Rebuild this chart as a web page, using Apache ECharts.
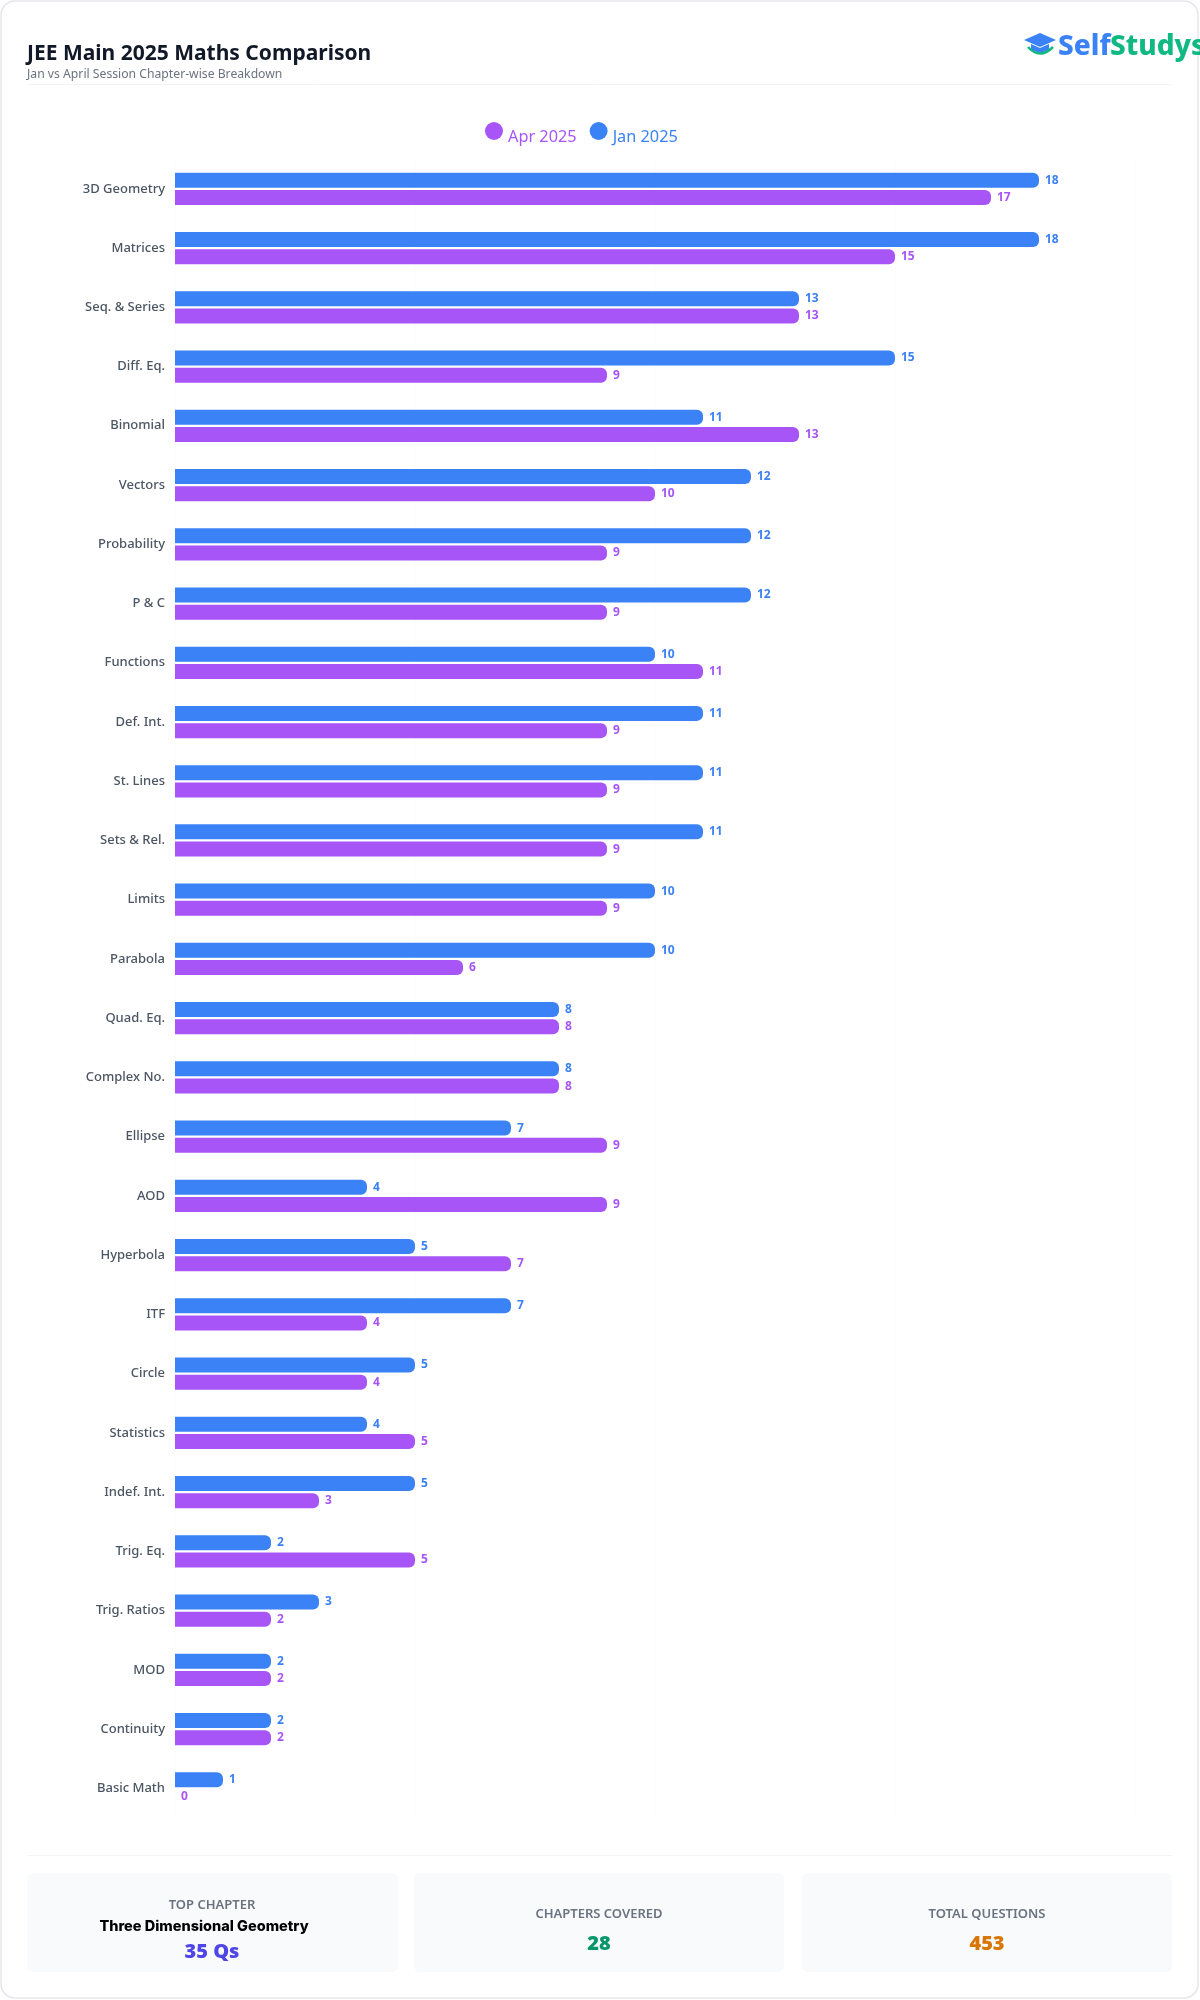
<!DOCTYPE html>
<html>
<head>
<meta charset="utf-8">
<title>JEE Main 2025 Maths Comparison</title>
<script src="https://cdn.jsdelivr.net/npm/echarts@6/dist/echarts.min.js"></script>
<style>
    html, body { margin: 0; padding: 0; background: #fff; }
    #id { width: 1200px; height: 2000px; }
</style>
</head>
<body>
<div id="id"></div>
<script>
var chapters = ['3D Geometry', 'Matrices', 'Seq. & Series', 'Diff. Eq.', 'Binomial', 'Vectors', 'Probability', 'P & C',
    'Functions', 'Def. Int.', 'St. Lines', 'Sets & Rel.', 'Limits', 'Parabola', 'Quad. Eq.', 'Complex No.', 'Ellipse',
    'AOD', 'Hyperbola', 'ITF', 'Circle', 'Statistics', 'Indef. Int.', 'Trig. Eq.', 'Trig. Ratios', 'MOD', 'Continuity', 'Basic Math'];
var jan2025 = [18, 18, 13, 15, 11, 12, 12, 12, 10, 11, 11, 11, 10, 10, 8, 8, 7, 4, 5, 7, 5, 4, 5, 2, 3, 2, 2, 1];
var apr2025 = [17, 15, 13, 9, 13, 10, 9, 9, 11, 9, 9, 9, 9, 6, 8, 8, 9, 9, 7, 4, 4, 5, 3, 5, 2, 2, 2, 0];

var BLUE = '#3b82f6';
var PURPLE = '#a855f7';
var FONT = '"Noto Sans", "Open Sans", sans-serif';

function statText(x, y, text, size, weight, color, family) {
    return {
        type: 'text', x: x, y: y, silent: true,
        style: {
            text: text, fill: color, font: weight + ' ' + size + 'px ' + (family || FONT),
            align: 'center', verticalAlign: 'middle'
        }
    };
}
function card(x, width) {
    return { type: 'rect', silent: true, shape: { x: x, y: 1873, width: width, height: 99, r: 6 }, style: { fill: '#f8fafc' } };
}
function rule(y) {
    return { type: 'line', silent: true, shape: { x1: 27, y1: y, x2: 1172, y2: y }, style: { stroke: '#f3f4f6', lineWidth: 1 } };
}

function loadChart() {
    var chartDom = document.getElementById('id');
    var myChart = echarts.init(chartDom);
    var option;

    option = {
        animation: false,
        backgroundColor: '#ffffff',
        title: {
            text: 'JEE Main 2025 Maths Comparison',
            subtext: 'Jan vs April Session Chapter-wise Breakdown',
            left: 22, top: 39,
            itemGap: 4,
            textStyle: { color: '#111827', fontFamily: FONT, fontWeight: 700, fontSize: 21 },
            subtextStyle: { color: '#6b7280', fontFamily: FONT, fontSize: 12.2 }
        },
        legend: {
            left: 480, top: 117,
            itemWidth: 18, itemHeight: 18, itemGap: 13,
            icon: 'circle',
            selectedMode: false,
            formatter: '{t|{name}}',
            textStyle: {
                rich: { t: { fontFamily: FONT, fontSize: 16.3, padding: [13, 0, 0, 0] } }
            },
            data: [
                { name: 'Apr 2025', textStyle: { color: PURPLE } },
                { name: 'Jan 2025', textStyle: { color: BLUE } }
            ]
        },
        grid: { left: 175, top: 159.2, width: 960, height: 1658.8 },
        xAxis: {
            type: 'value', min: 0, max: 20, interval: 5,
            axisLabel: { show: false }, axisLine: { show: false }, axisTick: { show: false },
            splitLine: { lineStyle: { color: '#fcfcfc', width: 1 } }
        },
        yAxis: {
            type: 'category', inverse: true, data: chapters,
            axisLine: { show: false }, axisTick: { show: false },
            axisLabel: { color: '#4b5563', fontFamily: FONT, fontSize: 13, fontWeight: 500, margin: 10, interval: 0 }
        },
        series: [
            {
                name: 'Jan 2025', type: 'bar', data: jan2025, barWidth: 15, barGap: '15%',
                itemStyle: { color: BLUE, borderRadius: [0, 6, 6, 0] },
                label: { show: true, position: 'right', distance: 6, color: BLUE, fontFamily: FONT, fontSize: 12, fontWeight: 700 }
            },
            {
                name: 'Apr 2025', type: 'bar', data: apr2025, barWidth: 15,
                itemStyle: { color: PURPLE, borderRadius: [0, 6, 6, 0] },
                label: { show: true, position: 'right', distance: 6, color: PURPLE, fontFamily: FONT, fontSize: 12, fontWeight: 700 }
            }
        ],
        graphic: [
            // page card and dividers
            { type: 'rect', silent: true, z: -10, shape: { x: 1, y: 1, width: 1197, height: 1997, r: 14 }, style: { fill: '#fff', stroke: '#e5e7eb', lineWidth: 1.5 } },
            rule(84.5), rule(1855.5),
            // logo
            { type: 'polygon', silent: true, shape: { points: [[1040, 33], [1056, 40], [1040, 47], [1024, 40]] }, style: { fill: BLUE } },
            { type: 'polygon', silent: true, shape: { points: [[1031, 44], [1040, 48], [1049, 44], [1049, 50], [1040, 53], [1031, 50]] }, style: { fill: BLUE } },
            { type: 'bezierCurve', silent: true, shape: { x1: 1028, y1: 47, x2: 1053, y2: 47, cpx1: 1040, cpy1: 60 }, style: { fill: null, stroke: '#10b981', lineWidth: 2.5 } },
            { type: 'text', silent: true, x: 1058, y: 47, style: { text: 'Self', fill: BLUE, font: '800 28px ' + FONT, verticalAlign: 'middle' } },
            { type: 'text', silent: true, x: 1110, y: 47, style: { text: 'Studys', fill: '#10b981', font: '800 28px ' + FONT, verticalAlign: 'middle' } },
            // stat cards
            card(27, 371), card(414, 370), card(802, 370),
            statText(212, 1905, 'TOP CHAPTER', 13, 600, '#6b7280'),
            statText(204, 1927, 'Three Dimensional Geometry', 14.5, 800, '#000000', 'Inter, ' + FONT),
            statText(212, 1952, '35 Qs', 20, 900, '#4f46e5'),
            statText(599, 1914, 'CHAPTERS COVERED', 13, 600, '#6b7280'),
            statText(599, 1944, '28', 20, 900, '#059669'),
            statText(987, 1914, 'TOTAL QUESTIONS', 13, 600, '#6b7280'),
            statText(987, 1944, '453', 20, 900, '#d97706')
        ]
    };

    option && myChart.setOption(option);
}
loadChart();
</script>
</body>
</html>
